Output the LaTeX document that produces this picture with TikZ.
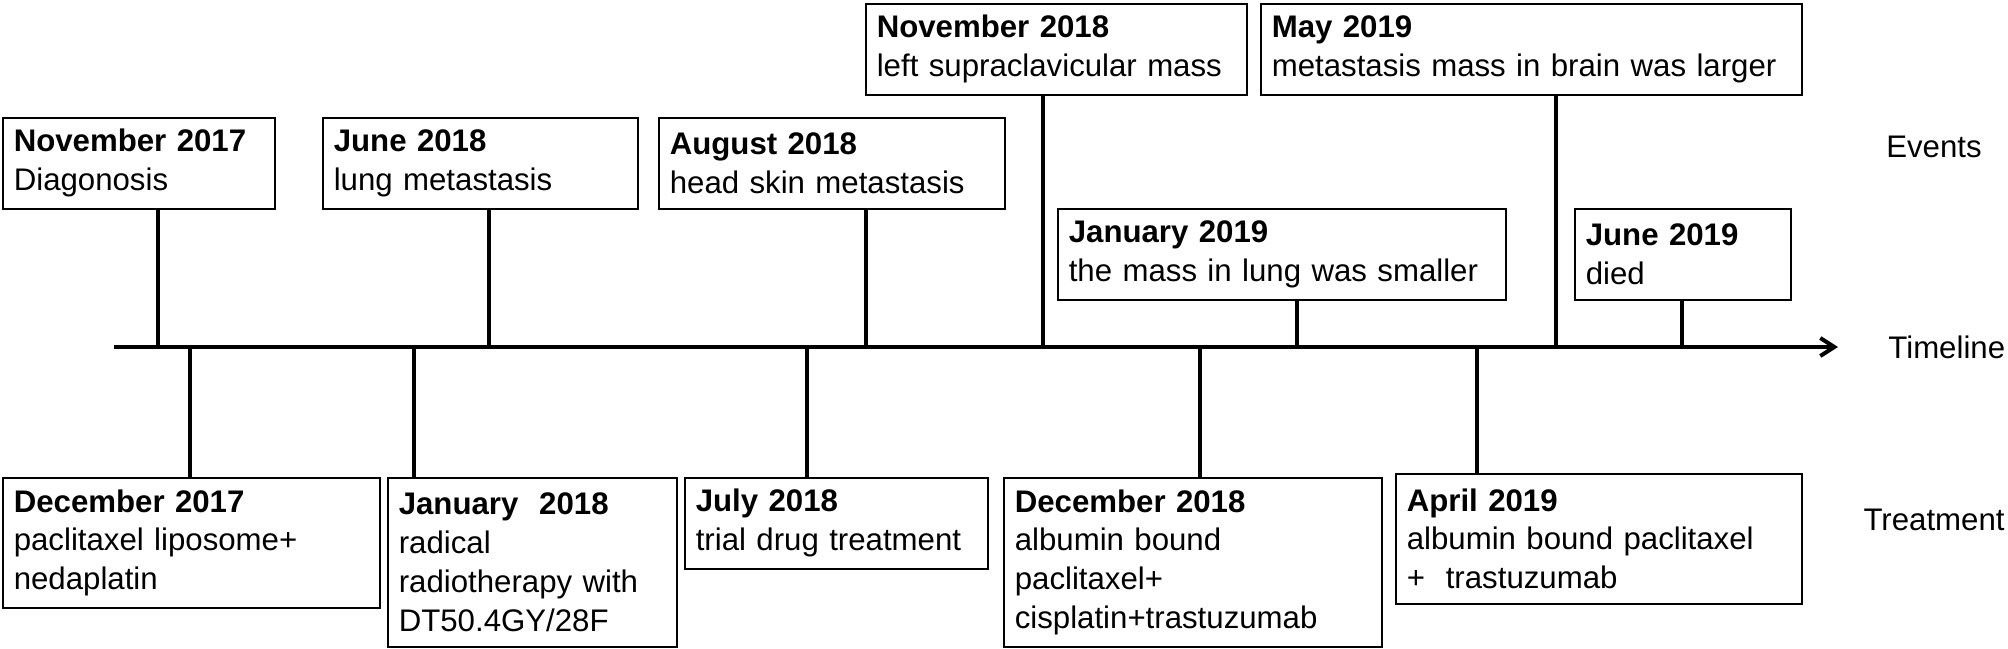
\documentclass[tikz,border=0pt]{standalone}
\usepackage{fontspec}
\setmainfont{Liberation Sans}
\usetikzlibrary{arrows.meta,positioning}

\begin{document}
\begin{tikzpicture}[x=0.5pt,y=-0.5pt,
  every node/.style={font=\fontsize{15.6}{19.4}\selectfont},
  datebox/.style={draw,line width=0.8pt,anchor=north west,align=left,inner xsep=5.5pt,inner ysep=0pt},
  stemline/.style={line width=2pt}
]
\useasboundingbox (0,0) rectangle (2008,648);
% events above the line
\node[datebox,text width=125pt,minimum height=45.5pt] (nov17) at (2,117) {\textbf{November 2017}\\Diagonosis};
\node[datebox,text width=146.5pt,minimum height=45.5pt] (jun18) at (322,117) {\textbf{June 2018}\\lung metastasis};
\node[datebox,text width=162pt,minimum height=45.5pt] (aug18) at (658,117) {\textbf{August 2018}\\head skin metastasis};
\node[datebox,text width=179.5pt,minimum height=45.5pt] (nov18) at (865,3) {\textbf{November 2018}\\left supraclavicular mass};
\node[datebox,text width=213pt,minimum height=45.5pt] (jan19) at (1057,208) {\textbf{January 2019}\\the mass in lung was smaller};
\node[datebox,text width=259.5pt,minimum height=45.5pt] (may19) at (1260,3) {\textbf{May 2019}\\metastasis mass in brain was larger};
\node[datebox,text width=97pt,minimum height=45.5pt] (jun19) at (1574,208) {\textbf{June 2019}\\died};
% treatment below the line
\node[datebox,text width=177.5pt,minimum height=65pt] (dec17) at (2,477) {\textbf{December 2017}\\paclitaxel liposome+\\nedaplatin};
\node[datebox,text width=133.5pt,minimum height=84.5pt] (jan18) at (387,477) {\textbf{January~ 2018}\\radical\\radiotherapy with\\DT50.4GY/28F};
\node[datebox,text width=140.5pt,minimum height=45.5pt] (jul18) at (684,477) {\textbf{July 2018}\\trial drug treatment};
\node[datebox,text width=178pt,minimum height=84.5pt] (dec18) at (1003,477) {\textbf{December 2018}\\albumin bound\\paclitaxel+\\cisplatin+trastuzumab};
\node[datebox,text width=192pt,minimum height=65pt] (apr19) at (1395,473) {\textbf{April 2019}\\albumin bound paclitaxel\\+~ trastuzumab};
% timeline
\coordinate (tl0) at (114,347);
\coordinate (tl1) at (1838,347);
\draw[stemline,-{Straight Barb[length=7pt,width=9pt]}] (tl0) -- (tl1);
\foreach \b/\x in {nov17/158,jun18/489,aug18/866,nov18/1043,jan19/1297,may19/1556,jun19/1682}{
  \coordinate (t\b) at (\x,347);
  \draw[stemline] (t\b) -- (t\b |- \b.south);
}
\foreach \b/\x in {dec17/190,jan18/414,jul18/807,dec18/1200,apr19/1477}{
  \coordinate (t\b) at (\x,347);
  \draw[stemline] (t\b) -- (t\b |- \b.north);
}
% row labels
\node (events) at (1934,147) {Events};
\node[right=25pt of tl1,inner sep=0pt] (timeline) {Timeline};
\node (treatment) at (1934,520) {Treatment};
\end{tikzpicture}
\end{document}
